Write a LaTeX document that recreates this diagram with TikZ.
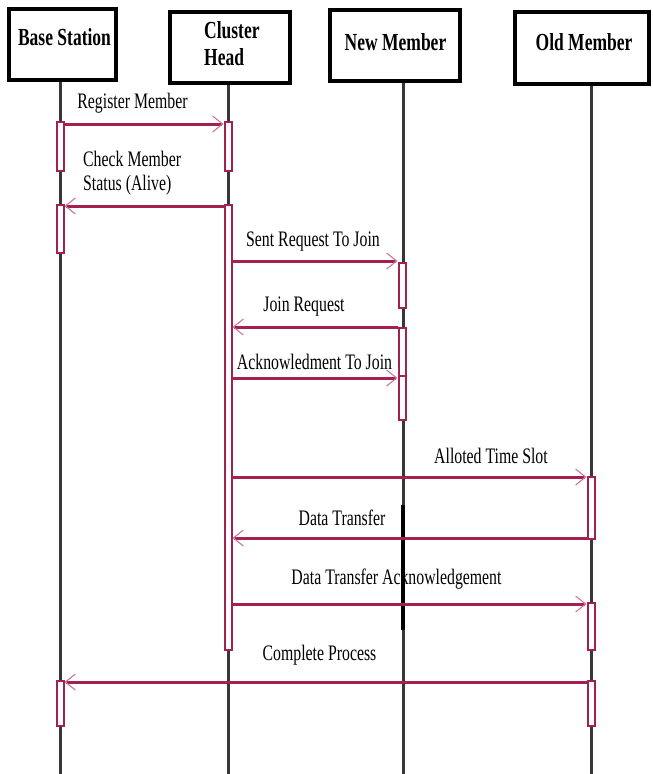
\documentclass[tikz,border=0pt]{standalone}
\usepackage{fontspec}
\usepackage{graphicx}
\setmainfont{Liberation Serif}
\usetikzlibrary{arrows.meta}
\definecolor{mar}{RGB}{163,32,80}
\definecolor{tipc}{RGB}{205,120,150}
\definecolor{life}{RGB}{55,55,55}
\newcommand{\vs}[1]{\scalebox{1}[1.4]{#1}}
\begin{document}
\begin{tikzpicture}[x=1pt,y=-1pt,
  headbox/.style={draw=black,line width=4pt,fill=white,inner sep=0pt},
  headtxt/.style={font=\fontsize{17.5}{27}\selectfont\bfseries,inner sep=0pt,align=left},
  bar/.style={draw=mar,line width=2pt,fill=white,minimum width=7pt,inner sep=0pt},
  msg/.style={draw=mar,line width=3pt,-{Straight Barb[length=10pt,width=16pt,line width=1.1pt,color=tipc]}},
  lbl/.style={font=\fontsize{15.8}{25}\selectfont,inner sep=0pt,align=left},
  lifel/.style={draw=life,line width=3pt}]
\useasboundingbox (0,0) rectangle (653,774);
% header boxes
\node[headbox,minimum width=107pt,minimum height=71pt] (bs) at (62.5,44.5) {};
\node[headbox,minimum width=120pt,minimum height=71pt] (ch) at (230,47.5) {};
\node[headbox,minimum width=130pt,minimum height=71pt] (nm) at (395,45.5) {};
\node[headbox,minimum width=134pt,minimum height=72pt] (om) at (582,48) {};
\node[headtxt] (bst) at (64.5,37) {\vs{Base Station}};
\node[headtxt,anchor=west] (cht1) at (204,30) {\vs{Cluster}};
\node[headtxt,anchor=west] (cht2) at (204,57) {\vs{Head}};
\node[headtxt] (nmt) at (395.5,42) {\vs{New Member}};
\node[headtxt] (omt) at (584,42) {\vs{Old Member}};
% lifelines
\coordinate (bsend) at (60,774);
\coordinate (chend) at (228,774);
\coordinate (nmend) at (403,774);
\coordinate (omend) at (591,774);
\draw[lifel] (bsend |- bs.south) -- (bsend);
\draw[lifel] (chend |- ch.south) -- (chend);
\draw[lifel] (nmend |- nm.south) -- (nmend);
\draw[lifel] (omend |- om.south) -- (omend);
\coordinate (nmk1) at (403,505);
\coordinate (nmk2) at (403,630);
\draw[black,line width=4.5pt] (nmk1) -- (nmk2);
% activation bars
\node[bar,minimum height=49pt] (bs1) at (60,146.5) {};
\node[bar,minimum height=48pt] (bs2) at (60,229) {};
\node[bar,minimum height=45pt] (bs3) at (60,703.5) {};
\node[bar,minimum height=49pt] (ch1) at (228,146.5) {};
\node[bar,minimum height=445pt] (ch2) at (228,427.5) {};
\node[bar,minimum height=45pt] (nm1) at (402,285.5) {};
\node[bar,minimum height=48pt] (nm2) at (402,352) {};
\node[bar,minimum height=44pt] (nm3) at (402,398) {};
\node[bar,minimum height=62pt] (om1) at (591,508) {};
\node[bar,minimum height=47pt] (om2) at (591,626.5) {};
\node[bar,minimum height=45pt] (om3) at (591,703.5) {};
% messages
\draw[msg] (bs1.east |- 0,124) -- (ch1.west |- 0,124);
\draw[msg] (ch2.west |- 0,206) -- (bs2.east |- 0,206);
\draw[msg] (ch2.east |- 0,261) -- (nm1.west |- 0,261);
\draw[msg] (nm2.west |- 0,327) -- (ch2.east |- 0,327);
\draw[msg] (ch2.east |- 0,378) -- (nm3.west |- 0,378);
\draw[msg] (ch2.east |- 0,477) -- (om1.west |- 0,477);
\draw[msg] (om1.west |- 0,538) -- (ch2.east |- 0,538);
\draw[msg] (ch2.east |- 0,604) -- (om2.west |- 0,604);
\draw[msg] (om3.west |- 0,682) -- (bs3.east |- 0,682);
% labels
\node[lbl] (l1) at (132.5,103) {\vs{Register Member}};
\node[lbl,anchor=west] (l2a) at (83,159) {\vs{Check Member}};
\node[lbl,anchor=west] (l2b) at (83,185) {\vs{Status (Alive)}};
\node[lbl] (l3) at (313,242) {\vs{Sent Request To Join}};
\node[lbl] (l4) at (304,307) {\vs{Join Request}};
\node[lbl] (l5) at (314.5,362) {\vs{Acknowledment To Join}};
\node[lbl] (l6) at (491,456) {\vs{Alloted Time Slot}};
\node[lbl] (l7) at (342,518) {\vs{Data Transfer}};
\node[lbl] (l8) at (396.5,579) {\vs{Data Transfer Acknowledgement}};
\node[lbl] (l9) at (319.5,655) {\vs{Complete Process}};
\end{tikzpicture}
\end{document}
